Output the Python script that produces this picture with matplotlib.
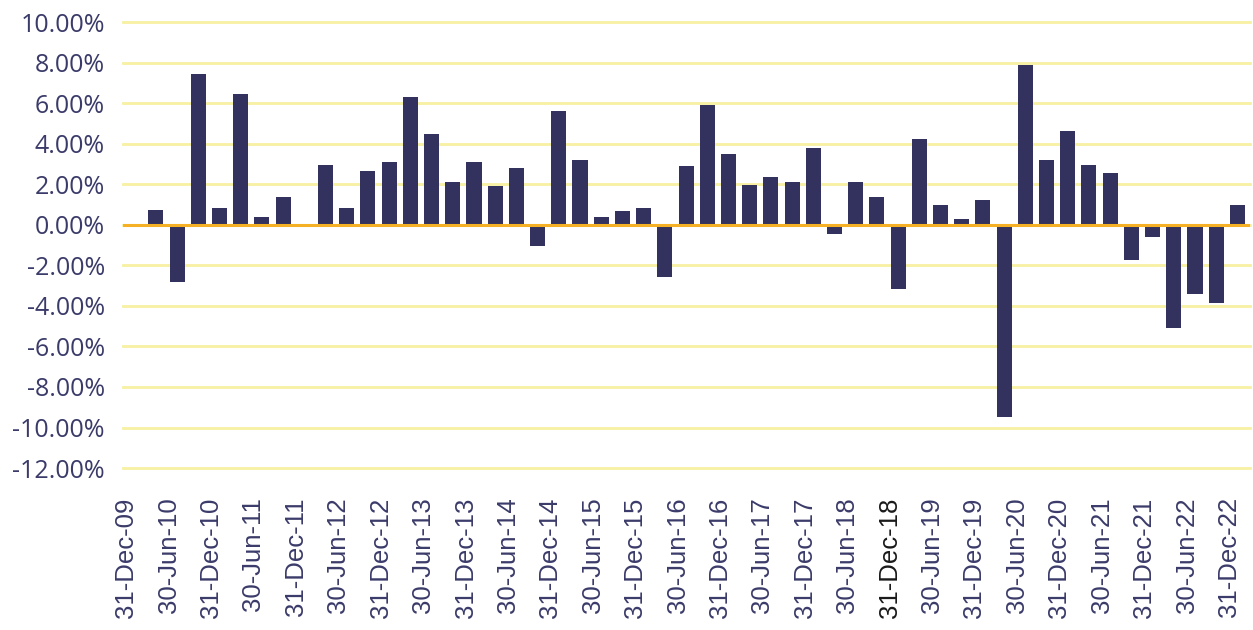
import matplotlib
matplotlib.use('Agg')
from matplotlib import pyplot as plt
from matplotlib.ticker import FuncFormatter
import numpy as np

# quarterly returns (%), 31-Dec-09 .. 31-Dec-22
quarters = ['31-Dec-09', '31-Mar-10', '30-Jun-10', '30-Sep-10', '31-Dec-10', '31-Mar-11',
            '30-Jun-11', '30-Sep-11', '31-Dec-11', '31-Mar-12', '30-Jun-12', '30-Sep-12',
            '31-Dec-12', '31-Mar-13', '30-Jun-13', '30-Sep-13', '31-Dec-13', '31-Mar-14',
            '30-Jun-14', '30-Sep-14', '31-Dec-14', '31-Mar-15', '30-Jun-15', '30-Sep-15',
            '31-Dec-15', '31-Mar-16', '30-Jun-16', '30-Sep-16', '31-Dec-16', '31-Mar-17',
            '30-Jun-17', '30-Sep-17', '31-Dec-17', '31-Mar-18', '30-Jun-18', '30-Sep-18',
            '31-Dec-18', '31-Mar-19', '30-Jun-19', '30-Sep-19', '31-Dec-19', '31-Mar-20',
            '30-Jun-20', '30-Sep-20', '31-Dec-20', '31-Mar-21', '30-Jun-21', '30-Sep-21',
            '31-Dec-21', '31-Mar-22', '30-Jun-22', '30-Sep-22', '31-Dec-22']
returns = [np.nan, 0.73, -2.81, 7.43, 0.82, 6.45, 0.38, 1.37, 0.0, 2.95, 0.82, 2.65,
           3.09, 6.30, 4.47, 2.11, 3.09, 1.91, 2.80, -1.05, 5.61, 3.19, 0.38, 0.68,
           0.82, -2.58, 2.90, 5.91, 3.49, 1.96, 2.35, 2.11, 3.78, -0.46, 2.11, 1.37,
           -3.17, 4.23, 0.97, 0.28, 1.22, -9.49, 7.88, 3.19, 4.62, 2.95, 2.55, -1.74,
           -0.61, -5.10, -3.42, -3.86, 0.97]
yticks = np.arange(-12, 10.1, 2)

navy = '#33325f'
text_col = '#3b3b6a'

fig = plt.figure(figsize=(12.53, 6.30), dpi=100)
ax = fig.add_axes([0.0982, 0.257, 0.8995, 0.708])

x = np.arange(len(quarters))
ax.bar(x, returns, width=0.71, color=navy, zorder=3)
ax.axhline(0, color='#f5b025', lw=2.2, zorder=4)

ax.set_xlim(-0.55, len(quarters) - 0.4)
ax.set_ylim(yticks[0], yticks[-1])
ax.set_yticks(yticks)
ax.yaxis.set_major_formatter(FuncFormatter(lambda v, p: '%.2f%%' % v))
ax.grid(axis='y', color='#f8f0a2', lw=2, zorder=0)
ax.set_axisbelow(True)
for line in ax.get_ygridlines():
    line.set_clip_on(False)
for s in ax.spines.values():
    s.set_visible(False)

# labels sit slightly left of their quarter, as in the original
ax.set_xticks(x[::2] - 0.4)
ax.set_xticklabels(quarters[::2], rotation=90, fontsize=18.5, family='Liberation Sans',
                   color=text_col)
for lab in ax.get_xticklabels():
    if lab.get_text() == '31-Dec-18':
        lab.set_color('#1a1a1a')
ax.tick_params(axis='x', length=0, pad=21)
ax.tick_params(axis='y', length=0, pad=13, labelsize=18, labelcolor=text_col)
for lab in ax.get_yticklabels():
    lab.set_family('Open Sans')

fig.savefig('out.png', dpi=100, facecolor='white')
